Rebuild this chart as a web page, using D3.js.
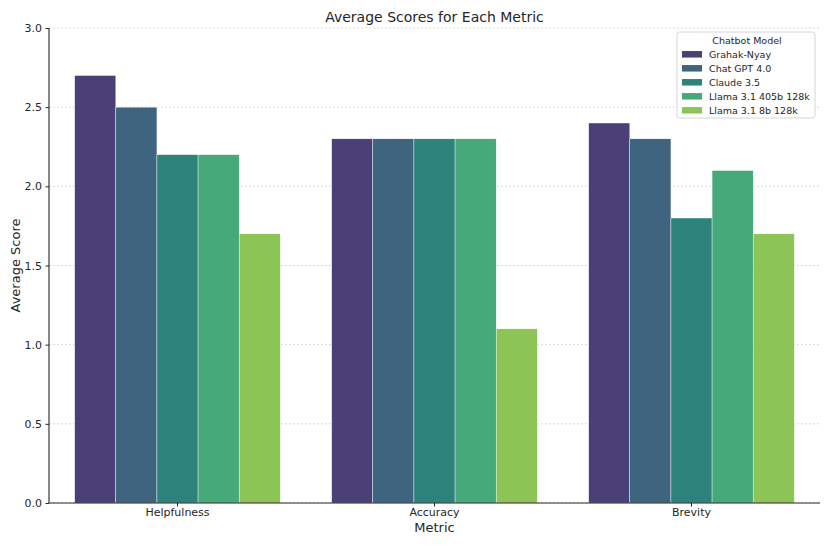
<!DOCTYPE html>
<html>
<head>
<meta charset="utf-8">
<script src="https://cdn.jsdelivr.net/npm/d3@7"></script>
<style>
  body { margin: 0; background: #fff; }
  text { font-family: "DejaVu Sans", sans-serif; fill: #262626; }
  .grid line { stroke: #cfcfcf; stroke-dasharray: 2,2; stroke-width: 0.8; }
  .axis path, .axis line { stroke: #262626; }
</style>
</head>
<body>
<div id="chart"></div>
<script>
// Data
const metrics = ["Helpfulness", "Accuracy", "Brevity"];
const models = ["Grahak-Nyay", "Chat GPT 4.0", "Claude 3.5", "Llama 3.1 405b 128k", "Llama 3.1 8b 128k"];
const grahak = [2.7, 2.3, 2.4];
const chatgpt = [2.5, 2.3, 2.3];
const claude = [2.2, 2.3, 1.8];
const llama405 = [2.2, 2.3, 2.1];
const llama8 = [1.7, 1.1, 1.7];
const yTicks = [0, 0.5, 1.0, 1.5, 2.0, 2.5, 3.0];
const colors = ["#4a3f77", "#3e6480", "#2d827c", "#46a979", "#8dc456"];

const series = [grahak, chatgpt, claude, llama405, llama8];

const width = 830, height = 545;
const margin = { top: 28, right: 10, bottom: 42, left: 49 };
const chartWidth = width - margin.left - margin.right;
const chartHeight = height - margin.top - margin.bottom;

const svg = d3.select("#chart").append("svg")
    .attr("width", width)
    .attr("height", height);

const chart = svg.append("g")
    .attr("transform", `translate(${margin.left},${margin.top})`);

// matplotlib-style categorical axis: band of 1 per category, group takes 0.8
const x = d3.scaleBand()
    .domain(metrics)
    .range([0, chartWidth])
    .paddingInner(0)
    .paddingOuter(0);

const xInner = d3.scaleBand()
    .domain(models)
    .range([x.bandwidth() * 0.1, x.bandwidth() * 0.9]);

const y = d3.scaleLinear()
    .domain([0, 3])
    .range([chartHeight, 0]);

// grid
chart.append("g")
    .attr("class", "grid")
    .selectAll("line")
    .data(yTicks)
    .enter().append("line")
    .attr("x1", 0)
    .attr("x2", chartWidth)
    .attr("y1", d => y(d))
    .attr("y2", d => y(d));

// bars
const groups = chart.selectAll(".model")
    .data(series)
    .enter().append("g")
    .attr("class", "model")
    .attr("fill", (d, i) => colors[i]);

groups.each(function(vals, si) {
    d3.select(this).selectAll("rect")
        .data(vals)
        .enter().append("rect")
        .attr("x", (d, i) => x(metrics[i]) + xInner(models[si]))
        .attr("width", xInner.bandwidth())
        .attr("y", d => y(d))
        .attr("height", d => chartHeight - y(d))
        .attr("stroke", "#fff")
        .attr("stroke-width", 0.4);
});

// axes
const xAxis = chart.append("g")
    .attr("class", "axis")
    .attr("transform", `translate(0,${chartHeight})`)
    .call(d3.axisBottom(x).tickSize(3.5).tickPadding(1.5));
xAxis.selectAll("text").attr("font-size", 11);
xAxis.select(".domain").attr("stroke-width", 1.1);

const yAxis = chart.append("g")
    .attr("class", "axis")
    .call(d3.axisLeft(y).tickValues(yTicks).tickFormat(d3.format(".1f")).tickSize(3.5).tickPadding(3.5));
yAxis.selectAll("text").attr("font-size", 11);
yAxis.select(".domain").attr("stroke-width", 1.1);
xAxis.select(".domain").attr("d", `M0,0H${chartWidth}`);
yAxis.select(".domain").attr("d", `M0,${chartHeight}V0`);

// title and axis labels
svg.append("text")
    .attr("x", margin.left + chartWidth / 2)
    .attr("y", 22)
    .attr("text-anchor", "middle")
    .attr("font-size", 14)
    .text("Average Scores for Each Metric");

svg.append("text")
    .attr("x", margin.left + chartWidth / 2)
    .attr("y", 532)
    .attr("text-anchor", "middle")
    .attr("font-size", 13)
    .text("Metric");

svg.append("text")
    .attr("transform", `translate(20,${margin.top + chartHeight / 2}) rotate(-90)`)
    .attr("text-anchor", "middle")
    .attr("font-size", 13)
    .text("Average Score");

// legend
const legend = svg.append("g").attr("transform", "translate(677,32)");
legend.append("rect")
    .attr("width", 138)
    .attr("height", 86)
    .attr("rx", 2.5)
    .attr("fill", "#fff")
    .attr("fill-opacity", 0.8)
    .attr("stroke", "#d5d5d5");
legend.append("text")
    .attr("x", 70)
    .attr("y", 11.5)
    .attr("text-anchor", "middle")
    .attr("font-size", 9.5)
    .text("Chatbot Model");
const items = legend.selectAll(".item")
    .data(models)
    .enter().append("g")
    .attr("transform", (d, i) => `translate(5,${22.3 + i * 14})`);
items.append("rect")
    .attr("width", 20)
    .attr("height", 6.5)
    .attr("y", -3.25)
    .attr("fill", (d, i) => colors[i]);
items.append("text")
    .attr("x", 27)
    .attr("y", 3.4)
    .attr("font-size", 9.5)
    .text(d => d);
</script>
</body>
</html>
